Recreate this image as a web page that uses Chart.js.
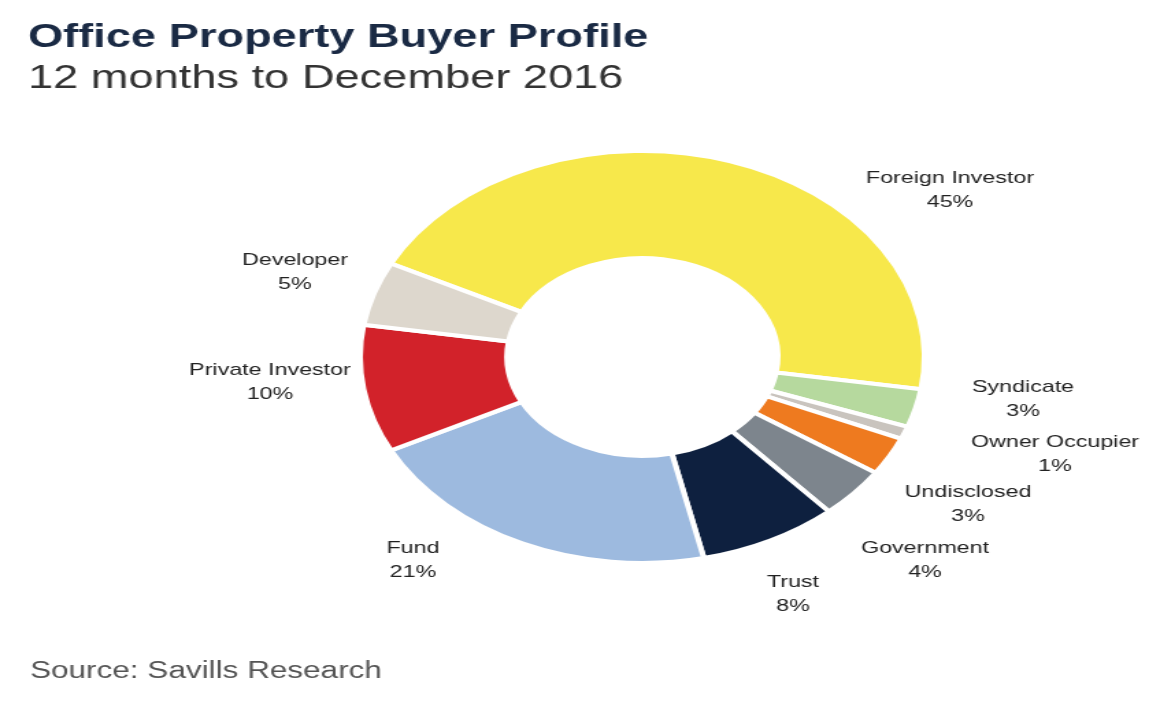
<!DOCTYPE html>
<html><head><meta charset="utf-8">
<script src="https://cdn.jsdelivr.net/npm/chart.js@4"></script>
<style>
html,body{margin:0;padding:0;background:#fff;overflow:hidden}
#wrap{width:847px;height:704px;transform:scaleX(1.3695);transform-origin:0 0;position:relative}
</style></head><body>
<div id="wrap"><canvas id="c" width="847" height="704" style="width:847px;height:704px"></canvas></div>
<script>
const categories=["Foreign Investor","Syndicate","Owner Occupier","Undisclosed","Government","Trust","Fund","Private Investor","Developer"];
const shares=[45,3,1,3,4,8,21,10,5];
const colors=["#F7E84B","#B6D99E","#C9C4BE","#EE7A1F","#7D858D","#0E203F","#9DBADF","#D2222A","#DDD7CD"];
const S=1.3695;
const labelPos=[[950,178],[1023,387],[1055,442],[968,492],[925,548],[793,582],[413,548],[270,370],[295,260]];
const textPlugin={id:'txt',afterDraw(ch){
  const g=ch.ctx;g.save();
  g.fillStyle="#1a2a44";g.textAlign="left";g.textBaseline="alphabetic";
  g.font="bold 33px Liberation Sans, Arial";g.fillText("Office Property Buyer Profile",28/S,47);
  g.fillStyle="#333";g.font="33px Liberation Sans, Arial";g.fillText("12 months to December 2016",28/S,88);
  g.fillStyle="#555";g.font="23px Liberation Sans, Arial";g.fillText("Source: Savills Research",30/S,678);
  g.fillStyle="#222";g.font="17px Liberation Sans, Arial";g.textAlign="center";g.textBaseline="middle";
  categories.forEach((c,i)=>{const [x,y]=labelPos[i];g.fillText(c,x/S,y);g.fillText(shares[i]+"%",x/S,y+24);});
  g.restore();}};
new Chart(document.getElementById('c'),{type:'doughnut',
 data:{labels:categories,datasets:[{data:shares,backgroundColor:colors,borderColor:"#fff",borderWidth:4}]},
 options:{responsive:false,animation:false,rotation:-63,cutout:'48%',
  layout:{padding:{left:261,right:170,top:149,bottom:139}},
  plugins:{legend:{display:false},tooltip:{enabled:false}}},
 plugins:[textPlugin]});
</script></body></html>
